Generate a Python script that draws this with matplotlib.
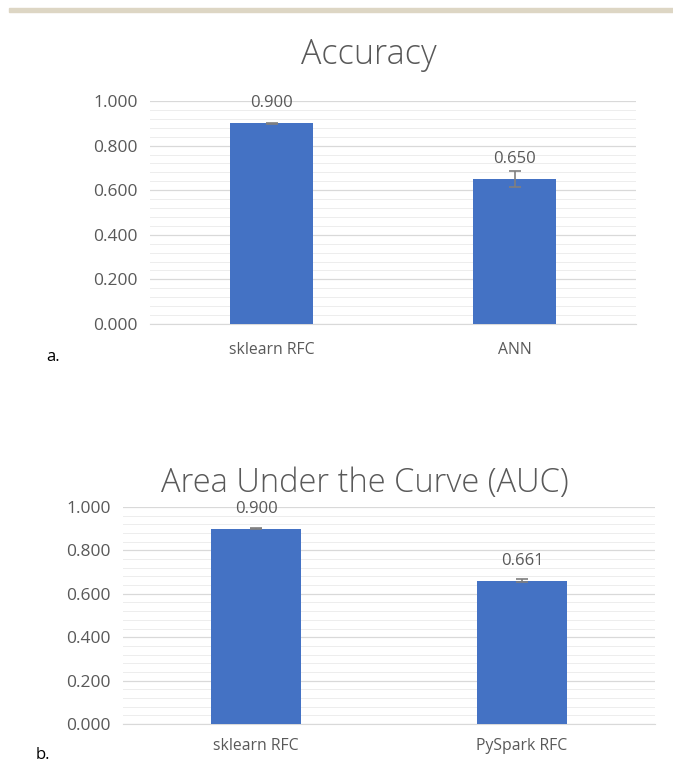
import matplotlib.pyplot as plt
from matplotlib.ticker import MultipleLocator
from matplotlib.patches import Rectangle

# Panel a: accuracy
acc_models = ['sklearn RFC', 'ANN']
acc_values = [0.900, 0.650]
acc_errors = [0.003, 0.035]

# Panel b: AUC
auc_models = ['sklearn RFC', 'PySpark RFC']
auc_values = [0.900, 0.661]
auc_errors = [0.003, 0.007]

yticks = [0.0, 0.2, 0.4, 0.6, 0.8, 1.0]

BLUE = '#4472C4'
GRAY = '#595959'
plt.rcParams['font.family'] = ['Open Sans', 'DejaVu Sans']

W, H = 673, 762
fig = plt.figure(figsize=(W / 100, H / 100), dpi=100)

# tan rule across the top
fig.patches.append(Rectangle((9 / W, 1 - 12 / H), 1, 4 / H,
                             transform=fig.transFigure, color='#DDD6C4', zorder=0))


def draw_panel(rect, models, values, errors, title, title_xy, title_size, letter_xy, xlab_pad):
    ax = fig.add_axes(rect)
    x = range(len(models))
    ax.bar(x, values, width=0.34, color=BLUE, zorder=3)
    ax.errorbar(x, values, yerr=errors, fmt='none', ecolor='#7F7F7F',
                elinewidth=1.2, capsize=4, capthick=1.2, zorder=4)
    for xi, v in zip(x, values):
        ax.text(xi, v + 0.09, f'{v:.3f}', ha='center', va='center',
                fontsize=12, color=GRAY)
    ax.set_xlim(-0.5, len(models) - 0.5)
    ax.set_ylim(0, 1.0)
    ax.set_yticks(yticks)
    ax.set_yticklabels([f'{t:.3f}' for t in yticks])
    ax.yaxis.set_minor_locator(MultipleLocator(0.04))
    ax.grid(axis='y', which='major', color='#D9D9D9', linewidth=0.9, zorder=0)
    ax.grid(axis='y', which='minor', color='#EDEDED', linewidth=0.7, zorder=0)
    ax.set_xticks(list(x))
    ax.set_xticklabels(models)
    ax.tick_params(axis='both', which='both', length=0, colors=GRAY)
    ax.tick_params(axis='y', pad=9, labelsize=12.5)
    ax.tick_params(axis='x', pad=xlab_pad, labelsize=11.3)
    for s in ['top', 'right', 'left']:
        ax.spines[s].set_visible(False)
    ax.spines['bottom'].set_color('#D9D9D9')
    fig.text(title_xy[0] / W, 1 - title_xy[1] / H, title, fontsize=title_size,
             color=GRAY, ha='center', va='center', fontweight='light')
    fig.text(letter_xy[0] / W, 1 - letter_xy[1] / H, letter_xy[2],
             fontsize=12, color='black', ha='left', va='center')
    return ax


draw_panel([150 / W, 1 - 324 / H, 486 / W, 223 / H],
           acc_models, acc_values, acc_errors, 'Accuracy', (369, 55), 24.5,
           (46, 357, 'a.'), 13)
draw_panel([123 / W, 1 - 724 / H, 532 / W, 217 / H],
           auc_models, auc_values, auc_errors, 'Area Under the Curve (AUC)', (365, 483), 23.5,
           (36, 755, 'b.'), 10)

fig.savefig('out.png', dpi=100)
